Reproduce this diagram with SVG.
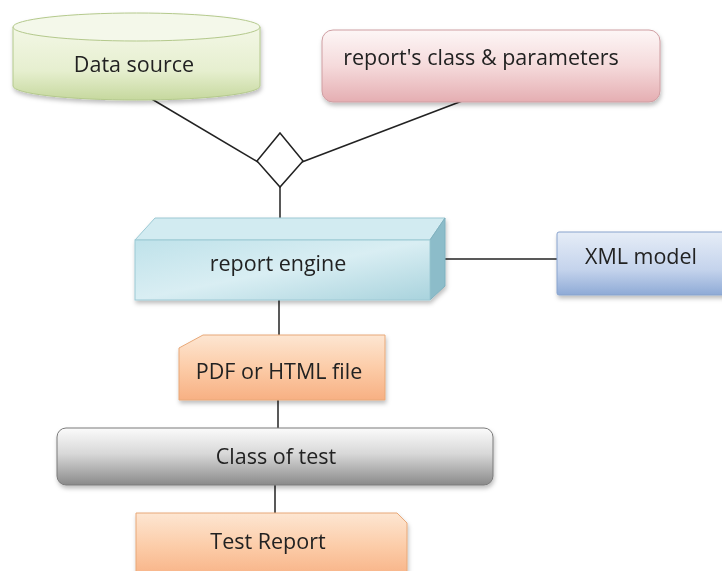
<svg xmlns="http://www.w3.org/2000/svg" width="722" height="571" viewBox="0 0 722 571">
<defs>
<linearGradient id="gGreen" x1="0" y1="0" x2="0" y2="1"><stop offset="0" stop-color="#f3f7e6"/><stop offset="0.6" stop-color="#e6efcf"/><stop offset="1" stop-color="#c6d89e"/></linearGradient>
<linearGradient id="gPink" x1="0" y1="0" x2="0" y2="1"><stop offset="0" stop-color="#fdf6f6"/><stop offset="0.5" stop-color="#f5dadb"/><stop offset="1" stop-color="#e5aeb2"/></linearGradient>
<linearGradient id="gCyan" x1="0" y1="0" x2="1" y2="1"><stop offset="0" stop-color="#bfe2ea"/><stop offset="0.5" stop-color="#d9eef3"/><stop offset="1" stop-color="#a9d3dd"/></linearGradient>
<linearGradient id="gBlue" x1="0" y1="0" x2="0" y2="1"><stop offset="0" stop-color="#e6edf7"/><stop offset="0.6" stop-color="#c4d3ec"/><stop offset="1" stop-color="#8eaad6"/></linearGradient>
<linearGradient id="gOrange" x1="0" y1="0" x2="0" y2="1"><stop offset="0" stop-color="#fde6d2"/><stop offset="0.5" stop-color="#fccca8"/><stop offset="1" stop-color="#f7b083"/></linearGradient>
<linearGradient id="gGray" x1="0" y1="0" x2="0" y2="1"><stop offset="0" stop-color="#fbfbfb"/><stop offset="0.45" stop-color="#d8d8d8"/><stop offset="1" stop-color="#8a8a8a"/></linearGradient>
<filter id="shadow" x="-10%" y="-10%" width="130%" height="140%"><feDropShadow dx="1" dy="3" stdDeviation="2" flood-color="#000" flood-opacity="0.25"/></filter>
<style>
.lbl{font-family:"Open Sans","Liberation Sans",sans-serif;font-size:21.5px;fill:#222;text-anchor:middle;dominant-baseline:central}
.conn line,.conn polyline{stroke:#222;stroke-width:1.5;fill:none}
</style>
</defs>
<rect width="722" height="571" fill="#ffffff"/>
<g class="conn" id="connectors">
<line x1="150" y1="98" x2="258" y2="162"/>
<line x1="302" y1="162" x2="470" y2="98"/>
<line x1="280" y1="187" x2="280" y2="220"/>
<line x1="445" y1="259" x2="557" y2="259"/>
<line x1="279" y1="300" x2="279" y2="336"/>
<line x1="278" y1="399" x2="278" y2="429"/>
<line x1="275" y1="485" x2="275" y2="513"/>
</g>
<g id="diamond">
<polygon points="280,133 303,161 280,187 257,161" fill="#ffffff" stroke="#222" stroke-width="1.5"/>
</g>
<g id="data-source" filter="url(#shadow)">
<path d="M13,27 L13,86 A123.5,14 0 0 0 260,86 L260,27 Z" fill="url(#gGreen)" stroke="#b4c98c" stroke-width="1"/>
<ellipse cx="136.5" cy="27" rx="123.5" ry="14" fill="#f4f8ea" stroke="#b4c98c" stroke-width="1"/>
<text class="lbl" x="134" y="63">Data source</text>
</g>
<g id="report-class" filter="url(#shadow)">
<rect x="322" y="30" width="338" height="72" rx="11" fill="url(#gPink)" stroke="#cf9ea2" stroke-width="1"/>
<text class="lbl" x="481" y="56">report's class &amp; parameters</text>
</g>
<g id="report-engine" filter="url(#shadow)">
<polygon points="135,240 155,218 445,218 430,240" fill="#d2ebf1" stroke="#9cc9d4" stroke-width="1"/>
<polygon points="430,240 445,218 445,286 430,300" fill="#8cbcc9" stroke="#7fb0be" stroke-width="1"/>
<rect x="135" y="240" width="295" height="60" fill="url(#gCyan)" stroke="#9cc9d4" stroke-width="1"/>
<text class="lbl" x="278" y="262">report engine</text>
</g>
<g id="xml-model" filter="url(#shadow)">
<rect x="557" y="232" width="170" height="63" rx="2" fill="url(#gBlue)" stroke="#88a3cd" stroke-width="1"/>
<text class="lbl" x="641" y="255">XML model</text>
</g>
<g id="pdf-html" filter="url(#shadow)">
<polygon points="203,335 385,335 385,400 179,400 179,348" fill="url(#gOrange)" stroke="#e8a878" stroke-width="1"/>
<text class="lbl" x="279" y="370">PDF or HTML file</text>
</g>
<g id="class-of-test" filter="url(#shadow)">
<rect x="57" y="428" width="436" height="57" rx="9" fill="url(#gGray)" stroke="#7a7a7a" stroke-width="1"/>
<text class="lbl" x="276" y="455">Class of test</text>
</g>
<g id="test-report" filter="url(#shadow)">
<polygon points="136,513 397,513 407,523 407,580 136,580" fill="url(#gOrange)" stroke="#e8a878" stroke-width="1"/>
<text class="lbl" x="268" y="540">Test Report</text>
</g>
</svg>
